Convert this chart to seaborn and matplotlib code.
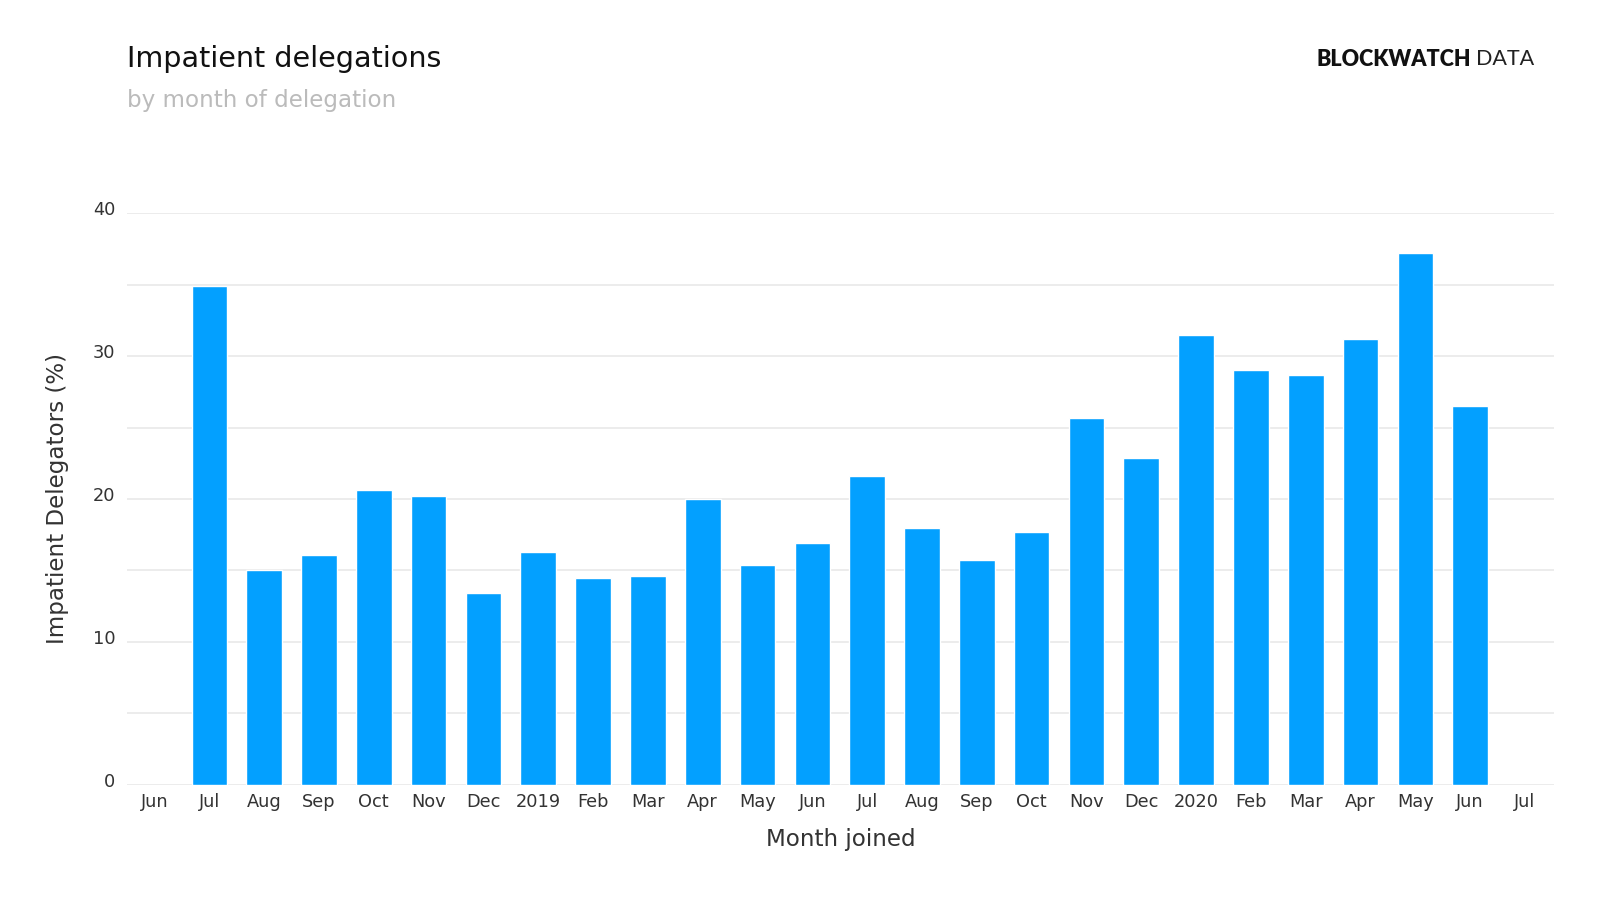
import pandas as pd
import seaborn as sns
import matplotlib.pyplot as plt
from matplotlib.ticker import MultipleLocator
from matplotlib.transforms import ScaledTranslation

# month slots on the axis (first and last are empty)
months = ['2018-06', '2018-07', '2018-08', '2018-09', '2018-10', '2018-11', '2018-12',
          '2019-01', '2019-02', '2019-03', '2019-04', '2019-05', '2019-06', '2019-07',
          '2019-08', '2019-09', '2019-10', '2019-11', '2019-12', '2020-01', '2020-02',
          '2020-03', '2020-04', '2020-05', '2020-06', '2020-07']
tick_labels = ['Jun', 'Jul', 'Aug', 'Sep', 'Oct', 'Nov', 'Dec', '2019', 'Feb', 'Mar',
               'Apr', 'May', 'Jun', 'Jul', 'Aug', 'Sep', 'Oct', 'Nov', 'Dec', '2020',
               'Feb', 'Mar', 'Apr', 'May', 'Jun', 'Jul']

# months that have a value
joined = months[1:-1]
impatient_pct = [34.9, 15.0, 16.1, 20.6, 20.2, 13.4, 16.3, 14.5, 14.6, 20.0, 15.4, 16.9,
                 21.6, 18.0, 15.7, 17.7, 25.7, 22.9, 31.5, 29.0, 28.7, 31.2, 37.2, 26.5]

df = pd.DataFrame({'month': joined, 'pct': impatient_pct})

sns.set_style('white')
plt.rcParams['font.family'] = ['DejaVu Sans']

fig = plt.figure(figsize=(16, 9), dpi=100)
ax = fig.add_axes([0.0791, 0.1281, 0.8922, 0.635])

sns.barplot(data=df, x='month', y='pct', order=months, color='#03a0ff',
            saturation=1, width=0.65, ax=ax)

ax.set_xlim(-0.51, 25.53)
ax.set_ylim(0, 40)
ax.yaxis.set_major_locator(MultipleLocator(10))
ax.yaxis.set_minor_locator(MultipleLocator(5))
ax.grid(True, axis='y', which='both', color='#e9e9e9', linewidth=1.2)
ax.set_axisbelow(True)
for s in ax.spines.values():
    s.set_visible(False)

ax.set_xticks(range(len(months)))
ax.set_xticklabels(tick_labels)
ax.tick_params(axis='both', which='both', length=0, labelsize=12.8, labelcolor='#333333')
ax.tick_params(axis='x', pad=6)
ax.tick_params(axis='y', pad=8)
offset = ScaledTranslation(0, 5 / 100, fig.dpi_scale_trans)
for lab in ax.get_yticklabels():
    lab.set_transform(lab.get_transform() + offset)

ax.set_xlabel('Month joined', fontsize=16.6, color='#333333', labelpad=12)
ax.set_ylabel('Impatient Delegators (%)', fontsize=16.6, color='#333333', labelpad=17)

fig.text(0.0791, 0.934, 'Impatient delegations', fontsize=20.6, color='#111111', va='center')
fig.text(0.0791, 0.888, 'by month of delegation', fontsize=16.6, color='#bbbbbb', va='center')

# brand mark
t1 = fig.text(0.9586, 0.934, 'DATA', fontsize=15.5, color='#222222', ha='right', va='center',
              family='Lato', weight='normal')
fig.canvas.draw()
bb = t1.get_window_extent()
fig.text((bb.x0 - 5) / fig.bbox.width, 0.934, 'BLOCKWATCH', fontsize=15.5, color='#111111',
         ha='right', va='center', family='Lato', weight='heavy')

fig.savefig('out.png', dpi=100)
